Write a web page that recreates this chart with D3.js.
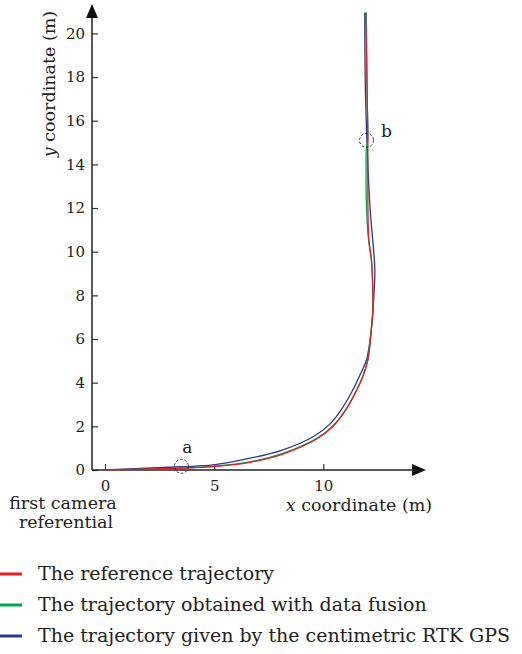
<!DOCTYPE html>
<html>
<head>
<meta charset="utf-8">
<script src="https://cdn.jsdelivr.net/npm/d3@7"></script>
<style>
  body { margin: 0; background: #fff; }
  text { font-family: "DejaVu Serif", serif; fill: #222; }
</style>
</head>
<body>
<div id="chart"></div>
<script>
// reference trajectory (red)
const refX = [0, 3.48, 4.94, 6.64, 8.15, 9.70, 10.43, 11.03, 11.53, 11.81, 12.04, 12.21, 12.27, 12.25, 12.21, 12.08, 12.04, 12.04, 11.94];
const refY = [0, 0.08, 0.15, 0.35, 0.73, 1.42, 1.98, 2.75, 3.66, 4.27, 5.03, 6.54, 7.32, 8.83, 9.61, 10.66, 13.27, 15.19, 20.96];

// data fusion trajectory (green)
const fusionX = [0, 3.48, 4.94, 6.64, 8.15, 9.70, 10.43, 11.03, 11.81, 12.04, 12.21, 12.27, 12.25, 12.20, 12.06, 11.97, 11.96, 11.97, 12.04, 12.01, 11.97];
const fusionY = [0, 0.09, 0.17, 0.37, 0.76, 1.45, 2.01, 2.77, 4.30, 5.06, 6.54, 7.32, 8.83, 9.61, 10.66, 12.36, 13.73, 14.65, 15.19, 16.93, 20.96];

// RTK GPS trajectory (blue)
const gpsX = [0, 3.48, 4.94, 6.60, 8.09, 9.61, 10.30, 10.88, 11.37, 11.68, 11.98, 12.21, 12.33, 12.36, 12.13, 11.94, 11.90];
const gpsY = [0, 0.15, 0.23, 0.53, 0.90, 1.57, 2.10, 2.85, 3.70, 4.35, 5.05, 6.54, 8.20, 9.20, 12.20, 16.90, 20.96];

const xTicks = [0, 5, 10];
const yTicks = [0, 2, 4, 6, 8, 10, 12, 14, 16, 18, 20];

const seriesNames = [
  "The reference trajectory",
  "The trajectory obtained with data fusion",
  "The trajectory given by the centimetric RTK GPS"
];
const seriesColors = ["#e31e24", "#00a650", "#2b3990"];

const markLabels = ["a", "b"];
const markX = [3.5, 11.98];
const markY = [0.17, 15.1];

const width = 522, height = 654;

const svg = d3.select("#chart").append("svg")
  .attr("width", width)
  .attr("height", height);

const x = d3.scaleLinear().domain([0, 10]).range([105, 323.3]);
const y = d3.scaleLinear().domain([0, 20]).range([470, 33.4]);

const axisX0 = 92;    // where the y axis stands
const axisY0 = y(0);

// axes with ticks
svg.append("g")
  .attr("transform", `translate(${axisX0},0)`)
  .call(d3.axisLeft(y).tickValues(yTicks).tickSizeInner(-6).tickSizeOuter(0).tickPadding(7))
  .call(g => g.select(".domain").remove())
  .call(g => g.selectAll("line").attr("stroke", "#333").attr("stroke-width", 1.2))
  .call(g => g.selectAll("text").attr("font-family", "DejaVu Serif").attr("font-size", 15).attr("fill", "#222"));

svg.append("g")
  .attr("transform", `translate(0,${axisY0})`)
  .call(d3.axisBottom(x).tickValues(xTicks).tickSizeInner(-6).tickSizeOuter(0).tickPadding(10))
  .call(g => g.select(".domain").remove())
  .call(g => g.selectAll("line").attr("stroke", "#333").attr("stroke-width", 1.2))
  .call(g => g.selectAll("text").attr("font-family", "DejaVu Serif").attr("font-size", 15).attr("fill", "#222"));

// axis lines with arrow heads
svg.append("line")
  .attr("x1", axisX0).attr("y1", axisY0)
  .attr("x2", axisX0).attr("y2", 14)
  .attr("stroke", "#222").attr("stroke-width", 1.5);
svg.append("path")
  .attr("d", `M${axisX0},4 L${axisX0 - 6},18 L${axisX0 + 6},18 Z`)
  .attr("fill", "#111");

svg.append("line")
  .attr("x1", axisX0).attr("y1", axisY0)
  .attr("x2", 416).attr("y2", axisY0)
  .attr("stroke", "#222").attr("stroke-width", 1.5);
svg.append("path")
  .attr("d", `M426,${axisY0} L412,${axisY0 - 6} L412,${axisY0 + 6} Z`)
  .attr("fill", "#111");

// trajectories
const line = d3.line()
  .x(d => x(d[0]))
  .y(d => y(d[1]))
  .curve(d3.curveCatmullRom.alpha(0.5));

const series = [
  { pts: d3.zip(gpsX, gpsY), color: seriesColors[2] },
  { pts: d3.zip(fusionX, fusionY), color: seriesColors[1] },
  { pts: d3.zip(refX, refY), color: seriesColors[0] }
];

svg.selectAll("path.traj")
  .data(series)
  .join("path")
  .attr("class", "traj")
  .attr("d", d => line(d.pts))
  .attr("fill", "none")
  .attr("stroke", d => d.color)
  .attr("stroke-width", 1.3);

// dashed circles a, b
const marks = markLabels.map((l, i) => ({ label: l, x: markX[i], y: markY[i] }));

svg.selectAll("circle.mark")
  .data(marks)
  .join("circle")
  .attr("class", "mark")
  .attr("cx", d => x(d.x))
  .attr("cy", d => y(d.y))
  .attr("r", 7)
  .attr("fill", "none")
  .attr("stroke", "#222")
  .attr("stroke-width", 1)
  .attr("stroke-dasharray", "2.5,2");

svg.selectAll("text.mark")
  .data(marks)
  .join("text")
  .attr("class", "mark")
  .attr("x", (d, i) => i === 0 ? x(d.x) + 6 : x(d.x) + 20)
  .attr("y", (d, i) => i === 0 ? y(d.y) - 13 : y(d.y) - 3)
  .attr("text-anchor", "middle")
  .attr("font-size", 17)
  .text(d => d.label);

// axis titles
const yTitle = svg.append("text")
  .attr("transform", "translate(55,84) rotate(-90)")
  .attr("text-anchor", "middle")
  .attr("font-size", 17.5);
yTitle.append("tspan").attr("font-style", "italic").text("y");
yTitle.append("tspan").text(" coordinate (m)");

const xTitle = svg.append("text")
  .attr("x", 359)
  .attr("y", 511)
  .attr("text-anchor", "middle")
  .attr("font-size", 17.5);
xTitle.append("tspan").attr("font-style", "italic").text("x");
xTitle.append("tspan").text(" coordinate (m)");

svg.append("text")
  .attr("x", 63).attr("y", 509)
  .attr("text-anchor", "middle")
  .attr("font-size", 17.5)
  .text("first camera");
svg.append("text")
  .attr("x", 66).attr("y", 528)
  .attr("text-anchor", "middle")
  .attr("font-size", 17.5)
  .text("referential");

// legend
const legend = svg.selectAll("g.legend")
  .data(seriesNames)
  .join("g")
  .attr("class", "legend")
  .attr("transform", (d, i) => `translate(0,${574 + i * 31})`);

legend.append("line")
  .attr("x1", 0).attr("x2", 22)
  .attr("stroke", (d, i) => seriesColors[i])
  .attr("stroke-width", 3);

legend.append("text")
  .attr("x", 38)
  .attr("y", 6)
  .attr("font-size", 19)
  .text(d => d);
</script>
</body>
</html>
